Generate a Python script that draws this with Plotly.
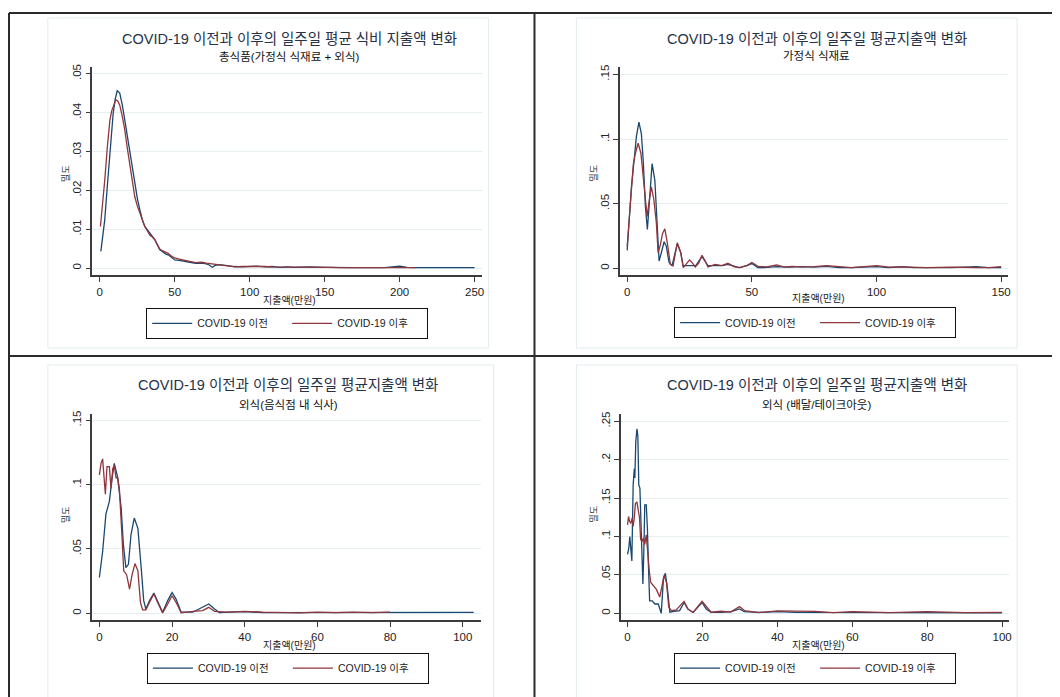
import plotly.graph_objects as go

# page offset of the figure (browser body margin) and figure size
OX, OY = 8, 8
FW, FH = 1052, 689

# ---------------- data ----------------
# Panel 1: total food
p1_before_x = [0.7, 2, 3.3, 5, 6.7, 8, 8.9, 10.3, 11.6, 13.3,
               15, 16.7, 18.3, 20, 21.7, 23.3, 25, 26.7, 28.3, 30,
               31.7, 33.3, 35, 36.7, 38.3, 40, 42, 44, 45.6, 48,
               50, 53, 56, 60, 64, 68, 71, 73, 75, 77,
               80, 85, 90, 95, 100, 105, 110, 115, 120, 125,
               130, 140, 150, 160, 170, 180, 190, 195, 200, 205,
               210, 220, 230, 240, 250]
p1_before_y = [.0043, .008, .0124, .021, .0295, .036, .0397, .0435, .0456, .045,
               .042, .038, .034, .0295, .0255, .0218, .018, .015, .0125, .0107,
               .0098, .009, .0082, .0073, .006, .0047, .0042, .0036, .0034, .0026,
               .0021, .002, .0017, .0015, .0012, .0013, .0011, .0008, .0002, .0007,
               .0009, .0006, .0004, .0003, .0004, .0005, .0003, .0004, .0002, .0003,
               .0002, .0003, .0002, .0001, .0001, .0001, .0001, .0003, .0005, .0002,
               .0001, .0001, .0001, .0001, .0001]
p1_after_x = [0.4, 2, 3.3, 5, 6.7, 8, 8.9, 10.7, 12, 13.3,
              15, 16.7, 18.3, 20, 21.7, 23.3, 25, 26.7, 28.3, 30,
              31.7, 33.3, 35, 36.7, 38.3, 40, 42, 44, 45.6, 48,
              50, 53, 56, 60, 64, 68, 71, 75, 80, 85,
              90, 95, 100, 105, 110, 115, 120, 130, 140, 150,
              155, 160, 170, 180, 190, 200, 210]
p1_after_y = [.0107, .017, .0226, .031, .038, .0405, .0415, .0433, .043, .0419,
              .039, .0355, .031, .027, .0225, .0184, .016, .0141, .0123, .0107,
              .0096, .0085, .008, .0073, .0062, .0049, .0044, .0040, .0038, .003,
              .0026, .0023, .002, .0017, .0014, .0015, .0013, .0011, .0009, .0006,
              .0003, .0004, .0004, .0005, .0004, .0003, .0003, .0003, .0002, .0003,
              .0002, .0001, .0001, .0001, .0001, .0002, .0001]

# Panel 2: home food ingredients
p2_before_x = [0, 0.8, 1.7, 2.8, 3.7, 4.7, 5.7, 6.5, 7.3, 8.1,
               9.1, 10, 11.1, 12, 12.8, 13.7, 14.8, 15.7, 16.8, 18,
               19, 20.1, 21.5, 22.4, 25, 27.5, 30, 32.4, 35.3, 38, 40.4,
               43, 45, 48, 50, 52.4, 55, 60, 65, 70, 75,
               80, 85, 90, 95, 100, 105, 110, 115, 120, 130,
               140, 145, 150]
p2_before_y = [.0138, .0377, .063, .084, .102, .113, .104, .081, .048, .03,
               .056, .081, .068, .033, .0056, .012, .0205, .017, .0044, .002,
               .010, .019, .012, .002, .002, .002, .009, .002, .002, .002, .003,
               .0015, .0005, .002, .0036, .0005, .0005, .0012, .0008, .0012, .0008,
               .0015, .0005, .0005, .0008, .0012, .0005, .0012, .0005, .0005, .0005,
               .0012, .0005, .0005]
p2_after_x = [0, 0.8, 1.7, 2.5, 3.3, 4.4, 5.5, 6.3, 7.1, 8,
              8.9, 9.7, 10.7, 11.7, 12.4, 13.3, 14.2, 15.1, 16.1, 17.3,
              18.4, 19.2, 20.1, 21.5, 22.5, 24, 25, 26.2, 27.3, 28.7, 30,
              31.2, 32.4, 35.3, 38, 40.4, 43, 45, 48, 50, 52.5,
              56, 60, 63, 66, 70, 75, 80, 85, 90, 95,
              100, 105, 110, 120, 130, 140, 145, 150]
p2_after_y = [.017, .040, .066, .081, .089, .0967, .089, .0736, .053, .040,
              .053, .063, .053, .035, .012, .018, .027, .0305, .0197, .003,
              .0018, .011, .0197, .012, .0005, .004, .0064, .004, .001, .004, .010,
              .006, .001, .003, .002, .0038, .001, .0005, .002, .0044, .0015,
              .001, .0025, .0008, .0015, .001, .0012, .002, .001, .0005, .0012,
              .002, .0008, .001, .0005, .0008, .0005, .0005, .0012]

# Panel 3: eating out (dine-in)
p3_before_x = [0, 0.9, 1.8, 2.75, 3.5, 4.1, 5, 6, 6.6, 7.3,
               8, 8.7, 9.6, 10.6, 11.5, 12.2, 12.8, 13.8, 15, 16,
               17.4, 18.8, 20, 21.1, 22.5, 25.7, 28.4, 30.1, 31.7, 33,
               36, 40, 45, 50, 55, 60, 65, 70, 75, 80,
               85, 90, 95, 100, 103]
p3_before_y = [.0278, .048, .077, .087, .105, .1165, .106, .082, .0535, .0355,
               .038, .061, .074, .066, .0355, .0098, .0033, .0098, .0157, .0098,
               .0008, .0098, .016, .011, .0008, .0008, .0046, .0072, .0033, .0005,
               .0008, .0012, .0005, .0005, .0003, .0008, .0003, .0003, .0005, .0003,
               .0003, .0003, .0003, .0006, .0006]
p3_after_x = [0, 0.46, 0.9, 1.4, 1.65, 2.1, 2.75, 3.2, 3.7, 4.1,
              4.6, 5, 5.5, 6.2, 6.7, 7.5, 8.3, 9, 9.8, 10.6,
              11.3, 11.9, 12.8, 13.8, 15, 16, 17.4, 18.8, 20, 21.1,
              22.5, 25.7, 28.4, 30.1, 31.7, 35, 40, 45, 50, 55,
              60, 65, 70, 75, 80]
p3_after_y = [.1075, .1165, .12, .102, .0926, .114, .114, .097, .1126, .115,
              .105, .106, .097, .061, .033, .030, .0188, .030, .0386, .033,
              .0085, .0026, .0026, .0085, .0149, .0085, .0003, .0072, .0136, .0085,
              .0003, .0015, .002, .0046, .0015, .0008, .0015, .0008, .0003, .0003,
              .0008, .0005, .0008, .0005, .0008]

# Panel 4: eating out (delivery / take-out)
p4_before_x = [0, .35, .6, .9, 1.15, 1.3, 1.5, 1.8, 1.95, 2.2,
               2.5, 2.75, 3, 3.3, 3.55, 3.8, 4.1, 4.35, 4.6, 5,
               5.3, 5.6, 5.9, 6.6, 7.3, 8.2, 9, 9.6, 10.1, 10.6,
               11.3, 12.6, 13.9, 15.1, 16.1, 17.5, 18.8, 19.9, 21, 22.3,
               25, 27.7, 29.9, 31.2, 35, 40, 45, 50, 60, 70, 80, 90, 100]
p4_before_y = [.0766, .085, .10, .085, .068, .111, .167, .188, .176, .223,
               .240, .2315, .167, .163, .111, .072, .038, .081, .141, .141,
               .111, .059, .016, .016, .012, .012, 0, .046, .052, .034,
               .0013, .0026, .0034, .014, .0056, .001, .0077, .014, .0056, .001,
               .001, .002, .0056, .002, .001, .002, .001, .001, .0005, .0005, .0005, .0005, .0005]
p4_after_x = [0, .27, .53, .9, 1.24, 1.5, 1.8, 2.1, 2.5, 2.8,
              3.2, 3.5, 3.9, 4.25, 4.6, 5, 5.3, 5.8, 6.2, 6.8,
              7.7, 8.6, 9.2, 9.75, 10.4, 11, 11.7, 13, 15.1, 16.1,
              17.5, 19.9, 22.3, 25, 27.5, 29.9, 31.2, 35, 40, 45, 50, 55, 60, 70, 80, 90, 100]
p4_after_y = [.115, .126, .12, .117, .124, .113, .124, .143, .145, .137,
              .124, .096, .094, .098, .0895, .102, .081, .055, .040, .036,
              .031, .021, .034, .049, .040, .008, .0034, .0043, .0155, .0056,
              .001, .0155, .0013, .0026, .0015, .0086, .0034, .0008, .003, .0025, .0025, .0008, .002, .0008, .002, .0008, .0012]

series_names = ["COVID-19 이전", "COVID-19 이후"]
titles = ["COVID-19 이전과 이후의 일주일 평균 식비 지출액 변화",
          "COVID-19 이전과 이후의 일주일 평균지출액 변화",
          "COVID-19 이전과 이후의 일주일 평균지출액 변화",
          "COVID-19 이전과 이후의 일주일 평균지출액 변화"]
subtitles = ["총식품(가정식 식재료 + 외식)", "가정식 식재료",
             "외식(음식점 내 식사)", "외식 (배달/테이크아웃)"]
x_title = "지출액(만원)"
y_title = "밀도"

x_ticks = [[0, 50, 100, 150, 200, 250], [0, 50, 100, 150],
           [0, 20, 40, 60, 80, 100], [0, 20, 40, 60, 80, 100]]
y_ticks = [[0, .01, .02, .03, .04, .05], [0, .05, .1, .15],
           [0, .05, .1, .15], [0, .05, .1, .15, .2, .25]]
y_tick_labels = [["0", ".01", ".02", ".03", ".04", ".05"], ["0", ".05", ".1", ".15"],
                 ["0", ".05", ".1", ".15"], ["0", ".05", ".1", ".15", ".2", ".25"]]

panels = [(p1_before_x, p1_before_y, p1_after_x, p1_after_y),
          (p2_before_x, p2_before_y, p2_after_x, p2_after_y),
          (p3_before_x, p3_before_y, p3_after_x, p3_after_y),
          (p4_before_x, p4_before_y, p4_after_x, p4_after_y)]

# ---------------- layout geometry (page pixels) ----------------
def px(x):
    return (x - OX) / FW

def py(y):
    return 1 - (y - OY) / FH

boxes = [(92.7, 483, 63, 273), (621.7, 1011, 63, 273),
         (92.7, 482.7, 412.7, 620), (622.7, 1011.7, 412.7, 620)]
x_ranges = [[-4.9, 254.7], [-2.9, 152.8], [-1.9, 105.1], [-1.76, 101.8]]
y_ranges = [[-0.0019, 0.0518], [-0.0056, 0.156], [-0.0056, 0.1546], [-0.0094, 0.259]]
title_pos = [(290, 35), (819, 35), (289, 383), (819, 383)]
subtitle_pos = [(290, 53), (819, 52), (289, 403), (819, 403)]
xtitle_pos = [(290.8, 298), (820.8, 296), (290.8, 645.5), (820.8, 645.5)]
ytitle_pos = [(65, 170), (595, 170), (65, 513), (595, 513)]
legend_pos = [(288, 321.2), (817.4, 320.4), (288.7, 668), (817.4, 668)]
region_boxes = [(48, 490, 14, 346), (578, 1020, 14, 346),
                (48, 495, 363, 700), (578, 1020, 363, 700)]

BLUE = "#1a476f"
RED = "#90353b"
FONT = "Liberation Sans, Arial, Noto Sans CJK KR, sans-serif"
AXIS_COLOR = "#3c3c3c"
GRID_COLOR = "#e6eef1"

fig = go.Figure()
layout = dict(width=FW, height=FH, autosize=False,
              margin=dict(l=0, r=0, t=0, b=0),
              paper_bgcolor="white", plot_bgcolor="white",
              font=dict(family=FONT, color="#222"),
              annotations=[], shapes=[])

for i, (bx, by, ax_, ay_) in enumerate(panels):
    n = i + 1
    xa = "x" if n == 1 else f"x{n}"
    ya = "y" if n == 1 else f"y{n}"
    lg = "legend" if n == 1 else f"legend{n}"
    for (xs, ys, color, name) in [(bx, by, BLUE, series_names[0]), (ax_, ay_, RED, series_names[1])]:
        fig.add_trace(go.Scatter(x=xs, y=ys, mode="lines", name=name,
                                 line=dict(color=color, width=1.3),
                                 xaxis=xa, yaxis=ya, legend=lg, showlegend=True))
    l, r, t, b = boxes[i]
    layout[f"xaxis{'' if n == 1 else n}"] = dict(
        domain=[px(l), px(r)], range=x_ranges[i], anchor=ya,
        tickmode="array", tickvals=x_ticks[i],
        showline=True, linecolor=AXIS_COLOR, linewidth=1.5,
        ticks="outside", ticklen=5, tickwidth=1.3, tickcolor=AXIS_COLOR,
        showgrid=False, zeroline=False,
        tickfont=dict(size=11.5, color="#222"))
    layout[f"yaxis{'' if n == 1 else n}"] = dict(
        domain=[py(b), py(t)], range=y_ranges[i], anchor=xa,
        tickmode="array", tickvals=y_ticks[i], ticktext=y_tick_labels[i],
        tickangle=-90,
        showline=True, linecolor=AXIS_COLOR, linewidth=1.5,
        ticks="outside", ticklen=5, tickwidth=1.3, tickcolor=AXIS_COLOR,
        showgrid=True, gridcolor=GRID_COLOR, gridwidth=1, zeroline=False,
        tickfont=dict(size=11.5, color="#222"))
    tx, ty = title_pos[i]
    layout["annotations"].append(dict(text=titles[i], x=px(tx), y=py(ty), xref="paper", yref="paper",
                                      xanchor="center", yanchor="middle", showarrow=False,
                                      font=dict(size=14.5, color="#253247", family=FONT)))
    sx, sy = subtitle_pos[i]
    layout["annotations"].append(dict(text=subtitles[i], x=px(sx), y=py(sy), xref="paper", yref="paper",
                                      xanchor="center", yanchor="middle", showarrow=False,
                                      font=dict(size=11.5, color="#111", family=FONT)))
    xx, xy = xtitle_pos[i]
    layout["annotations"].append(dict(text=x_title, x=px(xx), y=py(xy), xref="paper", yref="paper",
                                      xanchor="center", yanchor="middle", showarrow=False,
                                      font=dict(size=10, color="#222", family=FONT)))
    yx, yy = ytitle_pos[i]
    layout["annotations"].append(dict(text=y_title, x=px(yx), y=py(yy), xref="paper", yref="paper",
                                      xanchor="center", yanchor="middle", showarrow=False, textangle=-90,
                                      font=dict(size=9, color="#333", family=FONT)))
    lx, ly = legend_pos[i]
    layout[lg] = dict(orientation="h", x=px(lx), y=py(ly), xanchor="center", yanchor="middle",
                      xref="paper", yref="paper",
                      bordercolor="#111", borderwidth=1, bgcolor="white",
                      font=dict(size=10.5, color="#222", family=FONT),
                      itemwidth=40, entrywidth=85, entrywidthmode="pixels",
                      tracegroupgap=0, itemclick=False, itemdoubleclick=False)
    rl, rr, rt, rb = region_boxes[i]
    layout["shapes"].append(dict(type="rect", xref="paper", yref="paper",
                                 x0=px(rl), x1=px(rr), y0=py(rb), y1=py(rt),
                                 line=dict(color="#e2ebee", width=1), layer="below"))

# table grid lines
for (x0, y0, x1, y1) in [(9, 9, 1060, 9), (9, 9, 9, 697), (536, 9, 536, 697), (9, 354, 1060, 354)]:
    layout["shapes"].append(dict(type="line", xref="paper", yref="paper",
                                 x0=px(x0), y0=py(y0), x1=px(x1), y1=py(y1),
                                 line=dict(color="#2b2b2b", width=2)))

fig.update_layout(**layout)
fig.write_html("out.html")
